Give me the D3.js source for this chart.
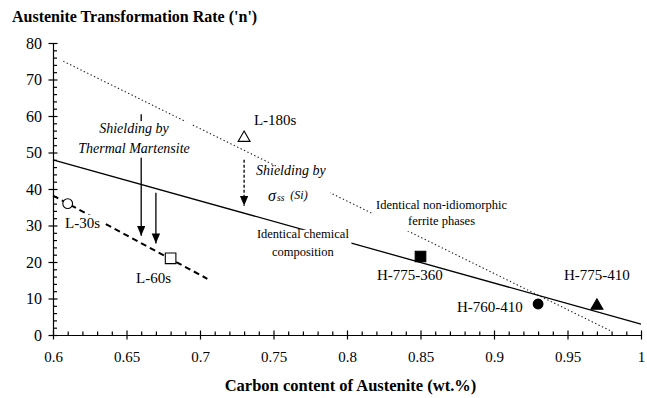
<!DOCTYPE html>
<html><head><meta charset="utf-8">
<script src="https://cdn.jsdelivr.net/npm/d3@7"></script>
<style>
html,body{margin:0;padding:0;background:#fff;}
svg{display:block;}
</style></head><body>
<svg id="chart" width="647" height="398"></svg>
<script>
// Measured samples: austenite carbon content (wt.%) vs transformation rate n
const samples = ["L-30s", "L-60s", "L-180s", "H-775-360", "H-760-410", "H-775-410"];
const carbon = [0.61, 0.68, 0.73, 0.85, 0.93, 0.97];
const rateN = [36, 21, 54, 21.5, 8.5, 8];
const markerShape = ["circle", "square", "triangle", "square", "circle", "triangle"];
const markerFilled = [false, false, false, true, true, true];

// Trend lines, given by their end points
const chemX = [0.6, 1.0], chemN = [48, 3];            // identical chemical composition
const ferriteX = [0.607, 0.98], ferriteN = [75, 1];   // identical non-idiomorphic ferrite
const lowX = [0.6, 0.705], lowN = [38.2, 15.4];       // short-time L samples

// Shielding arrows (carbon, from n, to n)
const arrowX = [0.66, 0.67, 0.73];
const arrowFrom = [60.5, 39, 48];
const arrowTo = [27.2, 25.1, 35.4];
const arrowDashed = [false, false, true];

// Axis ticks
const xTicks = [0.6, 0.65, 0.7, 0.75, 0.8, 0.85, 0.9, 0.95, 1];
const xTickLabels = ["0.6", "0.65", "0.7", "0.75", "0.8", "0.85", "0.9", "0.95", "1"];
const xMinor = d3.range(61, 100).filter(v => v % 5 !== 0).map(v => v / 100);
const yTicks = [0, 10, 20, 30, 40, 50, 60, 70, 80];
const yTickLabels = ["0", "10", "20", "30", "40", "50", "60", "70", "80"];
const yMinor = d3.range(2, 80, 2).filter(v => v % 10 !== 0);

const FONT = "'Liberation Serif', 'Times New Roman', serif";
const svg = d3.select("#chart").style("font-family", FONT);
const x = d3.scaleLinear().domain([0.6, 1]).range([53, 641]);
const y = d3.scaleLinear().domain([0, 80]).range([335, 43]);

svg.append("defs").append("marker")
  .attr("id", "head").attr("markerUnits", "userSpaceOnUse")
  .attr("markerWidth", 10).attr("markerHeight", 9)
  .attr("refX", 10).attr("refY", 4.25).attr("orient", "auto")
  .append("path").attr("d", "M0,0 L10,4.25 L0,8.5 Z").attr("fill", "#000");

// ---- axes ----
const gx = svg.append("g").attr("transform", `translate(0,${y(0)})`);
gx.call(d3.axisBottom(x).tickValues(xMinor).tickSize(-3.5).tickSizeOuter(0).tickFormat(""));
gx.select(".domain").remove();
const gxMajor = svg.append("g").attr("transform", `translate(0,${y(0)})`)
  .call(d3.axisBottom(x).tickValues(xTicks).tickSizeOuter(0)
    .tickFormat((d, i) => xTickLabels[i]));
gxMajor.selectAll(".tick line").attr("y1", -4.5).attr("y2", 4.5);
gxMajor.selectAll(".tick text").attr("y", 27).attr("dy", 0).attr("font-size", 15);

const gy = svg.append("g").attr("transform", `translate(${x(0.6)},0)`);
gy.call(d3.axisLeft(y).tickValues(yMinor).tickSize(-4).tickSizeOuter(0).tickFormat(""));
gy.select(".domain").remove();
const gyMajor = svg.append("g").attr("transform", `translate(${x(0.6)},0)`)
  .call(d3.axisLeft(y).tickValues(yTicks).tickSizeOuter(0)
    .tickFormat((d, i) => yTickLabels[i]));
gyMajor.selectAll(".tick line").attr("x1", 4.5).attr("x2", -4.5);
gyMajor.selectAll(".tick text").attr("x", -11).attr("dy", "0.34em").attr("font-size", 16);

svg.selectAll(".domain, .tick line").attr("stroke", "#000").attr("stroke-width", 1.2);
svg.selectAll(".tick text").attr("fill", "#000");

// ---- trend lines ----
const line = d3.line().x(d => x(d[0])).y(d => y(d[1]));
svg.append("path").datum(d3.zip(ferriteX, ferriteN)).attr("d", line)
  .attr("fill", "none").attr("stroke", "#222").attr("stroke-width", 1.1)
  .attr("stroke-dasharray", "1.4,2.4");
svg.append("path").datum(d3.zip(chemX, chemN)).attr("d", line)
  .attr("fill", "none").attr("stroke", "#000").attr("stroke-width", 1.3);
svg.append("path").datum(d3.zip(lowX, lowN)).attr("d", line)
  .attr("fill", "none").attr("stroke", "#000").attr("stroke-width", 2)
  .attr("stroke-dasharray", "6,4");

// ---- shielding arrows ----
arrowX.forEach((cx, i) => {
  svg.append("line")
    .attr("x1", x(cx)).attr("x2", x(cx))
    .attr("y1", y(arrowFrom[i])).attr("y2", y(arrowTo[i]))
    .attr("stroke", "#000").attr("stroke-width", 1.3)
    .attr("stroke-dasharray", arrowDashed[i] ? "3,2" : null)
    .attr("marker-end", "url(#head)");
});

// ---- annotations (white box behind each block hides the lines it sits on) ----
function block(lines, opt) {
  const g = svg.append("g");
  const t = g.append("text")
    .style("font-family", FONT)
    .attr("x", x(opt.x)).attr("y", y(opt.y))
    .attr("font-size", opt.size).attr("font-style", opt.italic ? "italic" : null)
    .attr("text-anchor", opt.anchor || "start").attr("fill", "#000");
  lines.forEach((s, i) => {
    t.append("tspan").attr("x", x(opt.x)).attr("dy", i === 0 ? 0 : opt.lead).text(s);
  });
  if (opt.knock) {
    const b = t.node().getBBox(), p = opt.knock;
    g.insert("rect", "text")
      .attr("x", b.x - p[0]).attr("y", b.y + p[1])
      .attr("width", b.width + 2 * p[0]).attr("height", b.height - p[1] + p[2])
      .attr("fill", "#fff");
  }
  return t;
}

block(["Shielding by", "Thermal Martensite"],
  {x: 0.6551, y: 55.3, size: 14, italic: true, anchor: "middle", lead: 19.5, knock: [2, 0, 2]});

// Silicon solid-solution shielding label
const gs = svg.append("g").style("font-family", FONT);
gs.append("text").attr("x", x(0.7381)).attr("y", y(43.8))
  .attr("font-size", 14).attr("font-style", "italic").text("Shielding by");
const sig = gs.append("text").attr("x", x(0.7463)).attr("y", y(36.7))
  .attr("font-style", "italic");
sig.append("tspan").attr("font-size", 16).text("σ");
sig.append("tspan").attr("font-size", 9.5).attr("dx", 1).text("ss");
sig.append("tspan").attr("font-size", 12).attr("dx", 6).attr("dy", -2.5).text("(Si)");
{
  const b = gs.node().getBBox();
  gs.insert("rect", "text").attr("x", b.x - 2).attr("y", b.y + 3.5)
    .attr("width", b.width + 6).attr("height", b.height - 1.5).attr("fill", "#fff");
}

block(["L-180s"], {x: 0.7367, y: 57.5, size: 15});
block(["L-30s"], {x: 0.6082, y: 29.4, size: 15, knock: [3, 0, 1]});
block(["L-60s"], {x: 0.6565, y: 14.3, size: 15});
block(["Identical chemical", "composition"],
  {x: 0.770, y: 26.6, size: 12.5, anchor: "middle", lead: 18, knock: [2, 3, 0]});
block(["Identical non-idiomorphic", "ferrite phases"],
  {x: 0.8643, y: 34.5, size: 12.5, anchor: "middle", lead: 16, knock: [3, 0, 3]});
block(["H-775-360"], {x: 0.8204, y: 15.1, size: 15});
block(["H-775-410"], {x: 0.9476, y: 15.1, size: 15});
block(["H-760-410"], {x: 0.8748, y: 6.4, size: 15});

// ---- sample markers ----
const symType = {circle: d3.symbolCircle, square: d3.symbolSquare, triangle: d3.symbolTriangle};
const symSize = {circle: 75, square: 112, triangle: 62};
samples.forEach((name, i) => {
  svg.append("path")
    .attr("d", d3.symbol().type(symType[markerShape[i]]).size(symSize[markerShape[i]])())
    .attr("transform", `translate(${x(carbon[i])},${y(rateN[i])})`)
    .attr("fill", markerFilled[i] ? "#000" : "#fff")
    .attr("stroke", "#000").attr("stroke-width", 1.1);
});

// ---- titles ----
svg.append("text").attr("x", 12).attr("y", 22)
  .attr("font-size", 16).attr("font-weight", "bold").attr("fill", "#000")
  .text("Austenite Transformation Rate ('n')");
svg.append("text").attr("x", 350.5).attr("y", 391).attr("text-anchor", "middle")
  .attr("font-size", 16.5).attr("font-weight", "bold").attr("fill", "#000")
  .text("Carbon content of Austenite (wt.%)");

// every label uses the serif face (the axis generator sets its own family)
svg.selectAll("text").style("font-family", FONT);
</script>
</body></html>
